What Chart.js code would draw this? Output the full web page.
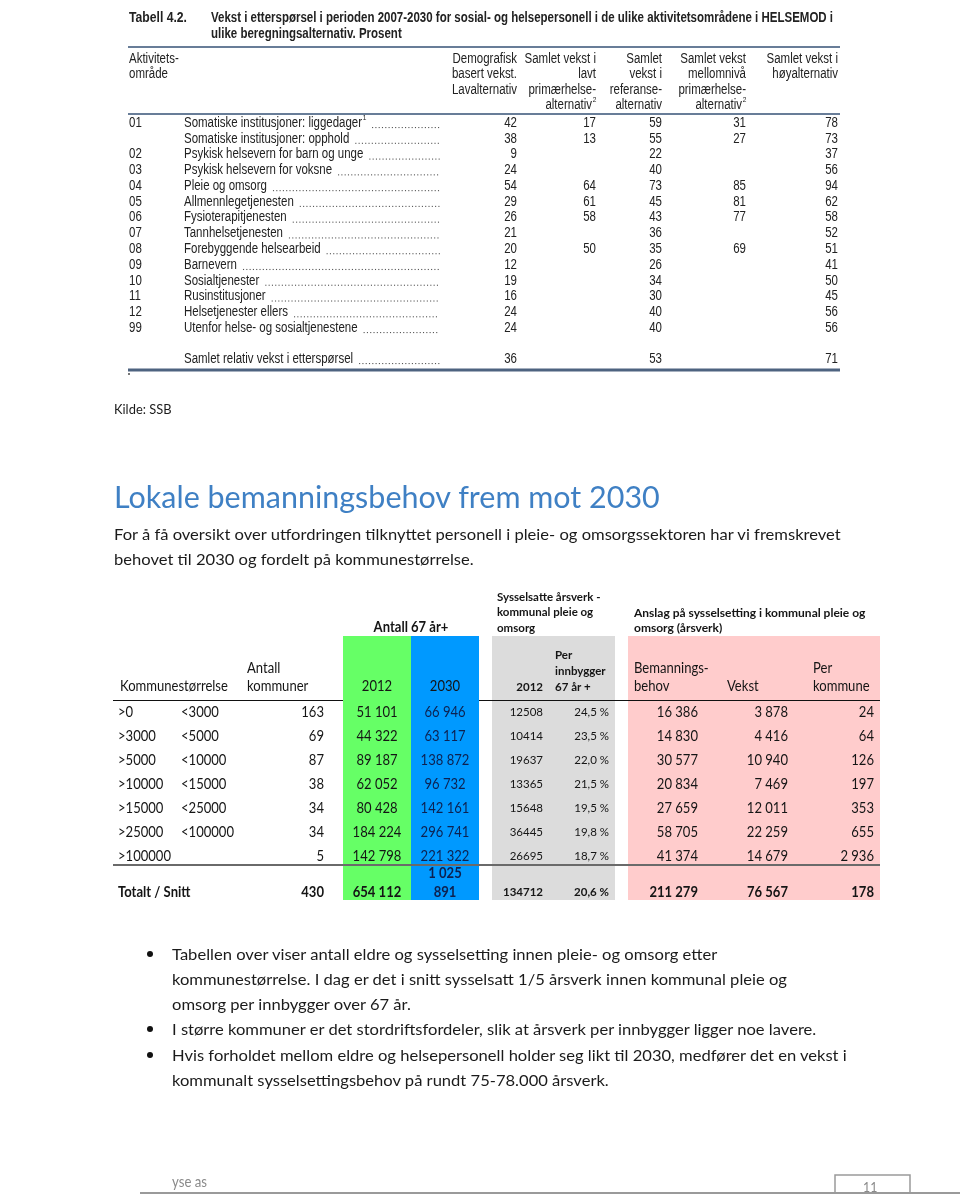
<!DOCTYPE html>
<html>
<head>
<meta charset="utf-8">
<script src="https://cdn.jsdelivr.net/npm/chart.js@4.4.0/dist/chart.umd.min.js"></script>
<style>
html, body { margin: 0; padding: 0; background: #fff; }
#page { position: relative; width: 960px; height: 1196px; overflow: hidden; }
#tables { position: absolute; left: 0; top: 0; }
.t { position: absolute; white-space: nowrap; font-family: Lato, "Open Sans", sans-serif; color: #1b1b1b;
     line-height: 1; transform-origin: 0 50%; transform: scaleX(0.88); }
.body { font-size: 16px; transform: scaleX(1.035); }
.bullet { position: absolute; width: 6px; height: 6px; border-radius: 50%; background: #111; }
</style>
</head>
<body>
<div id="page">
  <canvas id="tables" width="960" height="1196"></canvas>

  <div class="t" style="left:114px; top:402px; font-size:14px; transform:scaleX(0.92);">Kilde: SSB</div>

  <div class="t" style="left:114px; top:481px; font-size:30px; color:#3f80c4; transform:scaleX(1.016);">Lokale bemanningsbehov frem mot 2030</div>

  <div class="t body" style="left:114px; top:526px;">For å få oversikt over utfordringen tilknyttet personell i pleie- og omsorgssektoren har vi fremskrevet</div>
  <div class="t body" style="left:114px; top:551px;">behovet til 2030 og fordelt på kommunestørrelse.</div>

  <div class="bullet" style="left:147px; top:951px;"></div>
  <div class="t body" style="left:172px; top:946px;">Tabellen over viser antall eldre og sysselsetting innen pleie- og omsorg etter</div>
  <div class="t body" style="left:172px; top:971px;">kommunestørrelse. I dag er det i snitt sysselsatt 1/5 årsverk innen kommunal pleie og</div>
  <div class="t body" style="left:172px; top:996px;">omsorg per innbygger over 67 år.</div>
  <div class="bullet" style="left:147px; top:1026px;"></div>
  <div class="t body" style="left:172px; top:1021px;">I større kommuner er det stordriftsfordeler, slik at årsverk per innbygger ligger noe lavere.</div>
  <div class="bullet" style="left:147px; top:1052px;"></div>
  <div class="t body" style="left:172px; top:1047px;">Hvis forholdet mellom eldre og helsepersonell holder seg likt til 2030, medfører det en vekst i</div>
  <div class="t body" style="left:172px; top:1072px;">kommunalt sysselsettingsbehov på rundt 75-78.000 årsverk.</div>

  <div class="t" style="left:172px; top:1174px; font-size:15px; color:#8a8a8a;">yse as</div>
  <div class="t" style="left:863px; top:1180px; font-size:14px; color:#8a8a8a;">11</div>
</div>

<script>
// Tabell 4.2 (SSB) - vekst i prosent
const tabellTittel = "Vekst i etterspørsel i perioden 2007-2030 for sosial- og helsepersonell i de ulike aktivitetsområdene i HELSEMOD i";
const tabellTittel2 = "ulike beregningsalternativ. Prosent";
const kolonneHoder = [
  ["Demografisk", "basert vekst.", "Lavalternativ"],
  ["Samlet vekst i", "lavt", "primærhelse-", "alternativ^2"],
  ["Samlet", "vekst i", "referanse-", "alternativ"],
  ["Samlet vekst", "mellomnivå", "primærhelse-", "alternativ^2"],
  ["Samlet vekst i", "høyalternativ"]
];
const koder = ["01", "", "02", "03", "04", "05", "06", "07", "08", "09", "10", "11", "12", "99"];
const omraader = [
  "Somatiske institusjoner: liggedager^1", "Somatiske institusjoner: opphold", "Psykisk helsevern for barn og unge",
  "Psykisk helsevern for voksne", "Pleie og omsorg", "Allmennlegetjenesten", "Fysioterapitjenesten",
  "Tannhelsetjenesten", "Forebyggende helsearbeid", "Barnevern", "Sosialtjenester", "Rusinstitusjoner",
  "Helsetjenester ellers", "Utenfor helse- og sosialtjenestene"
];
const demografisk = [42, 38, 9, 24, 54, 29, 26, 21, 20, 12, 19, 16, 24, 24];
const lavtPrimaer = [17, 13, null, null, 64, 61, 58, null, 50, null, null, null, null, null];
const referanse = [59, 55, 22, 40, 73, 45, 43, 36, 35, 26, 34, 30, 40, 40];
const mellomPrimaer = [31, 27, null, null, 85, 81, 77, null, 69, null, null, null, null, null];
const hoyalternativ = [78, 73, 37, 56, 94, 62, 58, 52, 51, 41, 50, 45, 56, 56];
const samletLabel = "Samlet relativ vekst i etterspørsel";
const samletVekst = [36, null, 53, null, 71];

// bemanningstabell
const storrelseFra = [">0", ">3000", ">5000", ">10000", ">15000", ">25000", ">100000"];
const storrelseTil = ["<3000", "<5000", "<10000", "<15000", "<25000", "<100000", ""];
const antallKommuner = [163, 69, 87, 38, 34, 34, 5];
const eldre2012 = [51101, 44322, 89187, 62052, 80428, 184224, 142798];
const eldre2030 = [66946, 63117, 138872, 96732, 142161, 296741, 221322];
const aarsverk2012 = [12508, 10414, 19637, 13365, 15648, 36445, 26695];
const perInnbygger = [24.5, 23.5, 22.0, 21.5, 19.5, 19.8, 18.7];
const bemanningsbehov = [16386, 14830, 30577, 20834, 27659, 58705, 41374];
const vekst = [3878, 4416, 10940, 7469, 12011, 22259, 14679];
const perKommune = [24, 64, 126, 197, 353, 655, 2936];
const totalt = { kommuner: 430, e2012: 654112, e2030: 1025891, aarsverk: 134712, perInnb: 20.6, behov: 211279, vekst: 76567, perKommune: 178 };

function tusen(n) { return String(n).replace(/\B(?=(\d{3})+(?!\d))/g, " "); }
function pst(v) { return v.toFixed(1).replace(".", ",") + " %"; }

const ARIAL = "'Liberation Sans', Arial, sans-serif";
const CAL = "Lato, 'Open Sans', sans-serif";

function txt(ctx, s, x, y, o) {
  o = o || {};
  ctx.save();
  ctx.font = (o.bold ? "bold " : "") + (o.size || 14) + "px " + (o.family || CAL);
  ctx.fillStyle = o.color || "#1b1b1b";
  ctx.textBaseline = "middle";
  ctx.textAlign = "left";
  let sup = null;
  if (s.indexOf("^") >= 0) { sup = s.split("^")[1]; s = s.split("^")[0]; }
  let sx = o.sx || 1;
  const raw = ctx.measureText(s).width;
  if (o.fit) sx = o.fit / raw;
  const w = raw * sx;
  let supW = 0;
  if (sup) supW = 4;
  let x0 = x;
  if (o.align === "right") x0 = x - w - supW;
  else if (o.align === "center") x0 = x - w / 2;
  ctx.translate(x0, y);
  ctx.scale(sx, 1);
  ctx.fillText(s, 0, 0);
  if (sup) {
    ctx.font = Math.round((o.size || 14) * 0.55) + "px " + (o.family || CAL);
    ctx.fillText(sup, raw + 1, -5);
  }
  ctx.restore();
  return { w: w + supW, sx: sx };
}

const tablePlugin = {
  id: "tabeller",
  afterDraw(chart) {
    const ctx = chart.ctx;
    const X = v => chart.scales.x.getPixelForValue(v);
    const Y = v => chart.scales.y.getPixelForValue(v);

    // --- Tabell 4.2 ---
    const A = { family: ARIAL, size: 14, sx: 0.82, color: "#222" };
    txt(ctx, "Tabell 4.2.", X(129), Y(18), { family: ARIAL, size: 14, bold: true, fit: 58, color: "#222" });
    const t1 = txt(ctx, tabellTittel, X(211), Y(18), { family: ARIAL, size: 14, bold: true, fit: 622, color: "#222" });
    txt(ctx, tabellTittel2, X(211), Y(34), { family: ARIAL, size: 14, bold: true, sx: t1.sx, color: "#222" });

    ctx.strokeStyle = "#687d98";
    ctx.lineWidth = 2;
    [47, 114].forEach(yy => { ctx.beginPath(); ctx.moveTo(X(128), Y(yy)); ctx.lineTo(X(840), Y(yy)); ctx.stroke(); });
    ctx.lineWidth = 3;
    ctx.strokeStyle = "#4e6380";
    ctx.beginPath(); ctx.moveTo(X(128), Y(370)); ctx.lineTo(X(840), Y(370)); ctx.stroke();
    ctx.fillStyle = "#777";
    ctx.fillRect(X(128), Y(373), 2, 2);

    txt(ctx, "Aktivitets-", X(129), Y(59), A);
    txt(ctx, "område", X(129), Y(74), A);
    const hoyre = [517, 596, 662, 746, 838];
    const hodeY = [59, 74, 90, 105];
    kolonneHoder.forEach((linjer, c) => {
      linjer.forEach((s, i) => txt(ctx, s, X(hoyre[c]), Y(hodeY[i]), Object.assign({ align: "right" }, A)));
    });

    const kol = [demografisk, lavtPrimaer, referanse, mellomPrimaer, hoyalternativ];
    const radY = i => 123 + i * 15.77;
    omraader.forEach((navn, i) => {
      const y = Y(radY(i));
      if (koder[i]) txt(ctx, koder[i], X(129), y, A);
      const r = txt(ctx, navn, X(184), y, A);
      prikker(ctx, X(184) + r.w + 6, X(439), y + 4);
      kol.forEach((serie, c) => {
        if (serie[i] != null) txt(ctx, String(serie[i]), X(hoyre[c]), y, Object.assign({ align: "right" }, A));
      });
    });
    const ys = Y(359);
    const rs = txt(ctx, samletLabel, X(184), ys, A);
    prikker(ctx, X(184) + rs.w + 6, X(439), ys + 4);
    samletVekst.forEach((v, c) => { if (v != null) txt(ctx, String(v), X(hoyre[c]), ys, Object.assign({ align: "right" }, A)); });

    // --- Bemanningstabell ---
    const blokker = [
      [343, 411, "#66ff66"], [411, 479, "#0099ff"], [492, 615, "#dcdcdc"], [628, 880, "#ffcccc"]
    ];
    blokker.forEach(b => {
      ctx.fillStyle = b[2];
      ctx.fillRect(X(b[0]), Y(636), X(b[1]) - X(b[0]), Y(900) - Y(636));
    });
    ctx.strokeStyle = "#111";
    ctx.lineWidth = 1;
    ctx.beginPath();
    ctx.moveTo(X(113), Y(700) + 0.5); ctx.lineTo(X(343), Y(700) + 0.5);
    ctx.moveTo(X(479), Y(700) + 0.5); ctx.lineTo(X(880), Y(700) + 0.5);
    ctx.stroke();
    ctx.strokeStyle = "#6a6a6a";
    ctx.lineWidth = 2;
    ctx.beginPath(); ctx.moveTo(X(113), Y(865)); ctx.lineTo(X(880), Y(865)); ctx.stroke();

    const C = { size: 14.5, sx: 0.9, color: "#151515" };
    const Cb = Object.assign({}, C, { bold: true });
    const S = { size: 11.5, sx: 1.0, color: "#151515" };
    const Sb = Object.assign({}, S, { bold: true });
    const R = o => Object.assign({ align: "right" }, o);
    const M = o => Object.assign({ align: "center" }, o);

    txt(ctx, "Antall 67 år+", X(411), Y(627), M(Cb));
    ["Sysselsatte årsverk -", "kommunal pleie og", "omsorg"].forEach((s, i) => txt(ctx, s, X(497), Y(597 + i * 15.5), Sb));
    ["Anslag på sysselsetting i kommunal pleie og", "omsorg (årsverk)"].forEach((s, i) => txt(ctx, s, X(634), Y(613 + i * 15.5), Object.assign({}, Sb, { size: 12 })));
    txt(ctx, "Kommunestørrelse", X(120), Y(686), C);
    txt(ctx, "Antall", X(247), Y(668), C);
    txt(ctx, "kommuner", X(247), Y(686), C);
    txt(ctx, "2012", X(377), Y(686), M(C));
    txt(ctx, "2030", X(445), Y(686), M(C));
    txt(ctx, "2012", X(543), Y(687), R(Sb));
    ["Per", "innbygger", "67 år +"].forEach((s, i) => txt(ctx, s, X(555), Y(655 + i * 16), Sb));
    txt(ctx, "Bemannings-", X(634), Y(668), C);
    txt(ctx, "behov", X(634), Y(686), C);
    txt(ctx, "Vekst", X(727), Y(686), C);
    txt(ctx, "Per", X(813), Y(668), C);
    txt(ctx, "kommune", X(813), Y(686), C);

    storrelseFra.forEach((fra, i) => {
      const y = Y(712 + i * 24);
      txt(ctx, fra, X(118), y, C);
      if (storrelseTil[i]) txt(ctx, storrelseTil[i], X(181), y, C);
      txt(ctx, String(antallKommuner[i]), X(324), y, R(C));
      txt(ctx, tusen(eldre2012[i]), X(377), y, M(C));
      txt(ctx, tusen(eldre2030[i]), X(445), y, M(Object.assign({}, C, { color: "#0d2150" })));
      txt(ctx, String(aarsverk2012[i]), X(543), y, R(S));
      txt(ctx, pst(perInnbygger[i]), X(609), y, R(S));
      txt(ctx, tusen(bemanningsbehov[i]), X(698), y, R(C));
      txt(ctx, tusen(vekst[i]), X(788), y, R(C));
      txt(ctx, tusen(perKommune[i]), X(874), y, R(C));
    });

    const yt = Y(892);
    txt(ctx, "Totalt / Snitt", X(118), yt, Cb);
    txt(ctx, String(totalt.kommuner), X(324), yt, R(Cb));
    txt(ctx, tusen(totalt.e2012), X(377), yt, M(Cb));
    const e30 = tusen(totalt.e2030);
    const kutt = e30.lastIndexOf(" ");
    txt(ctx, e30.slice(0, kutt), X(445), Y(873), M(Object.assign({}, Cb, { color: "#0d2150" })));
    txt(ctx, e30.slice(kutt + 1), X(445), yt, M(Object.assign({}, Cb, { color: "#0d2150" })));
    txt(ctx, String(totalt.aarsverk), X(543), yt, R(Sb));
    txt(ctx, pst(totalt.perInnb), X(609), yt, R(Sb));
    txt(ctx, tusen(totalt.behov), X(698), yt, R(Cb));
    txt(ctx, tusen(totalt.vekst), X(788), yt, R(Cb));
    txt(ctx, tusen(totalt.perKommune), X(874), yt, R(Cb));

    // bunntekst
    ctx.strokeStyle = "#9a9a9a";
    ctx.lineWidth = 2;
    ctx.beginPath(); ctx.moveTo(X(140), Y(1193)); ctx.lineTo(X(960), Y(1193)); ctx.stroke();
    ctx.lineWidth = 1.5;
    ctx.beginPath(); ctx.moveTo(X(835), Y(1193)); ctx.lineTo(X(835), Y(1175)); ctx.lineTo(X(910), Y(1175)); ctx.lineTo(X(910), Y(1193)); ctx.stroke();
  }
};

function prikker(ctx, fra, til, y) {
  ctx.save();
  ctx.fillStyle = "#555";
  for (let x = fra; x < til; x += 3.3) ctx.fillRect(x, y, 1.1, 1.1);
  ctx.restore();
}

new Chart(document.getElementById("tables"), {
  type: "scatter",
  data: { datasets: [] },
  options: {
    responsive: false,
    animation: false,
    layout: { padding: 0 },
    scales: {
      x: { type: "linear", min: 0, max: 960, display: false },
      y: { type: "linear", min: 0, max: 1196, reverse: true, display: false }
    },
    plugins: { legend: { display: false }, tooltip: { enabled: false } }
  },
  plugins: [tablePlugin]
});
</script>
</body>
</html>
